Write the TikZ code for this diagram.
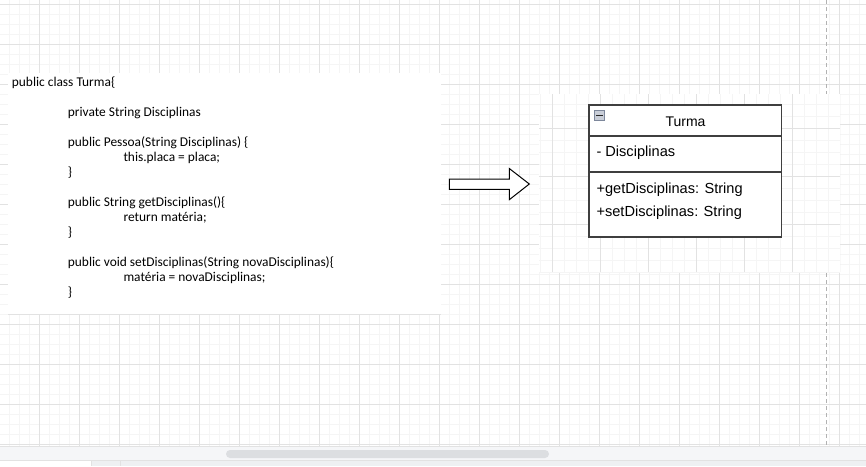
\documentclass[tikz,border=0pt]{standalone}
\usepackage{fontspec}
\setmainfont{Carlito}
\newfontfamily\arialf{Liberation Sans}
\definecolor{gmajor}{HTML}{E2E2E2}
\definecolor{gminor}{HTML}{F5F5F5}
\definecolor{umlline}{HTML}{3F3F3F}
\definecolor{band}{HTML}{F5F6F8}
\definecolor{thumb}{HTML}{DCDEE1}
\definecolor{tabgray}{HTML}{EEF0F2}
\definecolor{iconfill}{HTML}{C9CED8}
\definecolor{iconline}{HTML}{7D879B}
\tikzset{
  code/.style={anchor=base west, inner sep=0pt, font=\fontsize{13.4}{15}\selectfont, text=black},
  umltext/.style={anchor=base west, inner sep=0pt, font=\arialf\fontsize{14.6}{16}\selectfont, text=black},
  minorline/.style={draw=gminor, line width=0.8pt},
  majorline/.style={draw=gmajor, line width=0.9pt},
  umlbox/.style={draw=umlline, line width=1.6pt, fill=white},
}
\begin{document}
\begin{tikzpicture}[x=1pt,y=-1pt]
\useasboundingbox (0,0) rectangle (866,466);
\fill[white] (0,0) rectangle (866,466);
% main grid
\begin{scope}
\clip (0,0) rectangle (866,446);
\foreach \i in {0,...,86} {\draw[minorline] ({9.3+10*\i},0) -- ({9.3+10*\i},446);}
\foreach \j in {0,...,44} {\draw[minorline] (0,{4.3+10*\j}) -- (866,{4.3+10*\j});}
\foreach \i in {0,...,21} {\draw[majorline] ({39.3+40*\i},0) -- ({39.3+40*\i},446);}
\foreach \j in {0,...,11} {\draw[majorline] (0,{4.3+40*\j}) -- (866,{4.3+40*\j});}
\draw[draw=gray!60, line width=0.9pt, dash pattern=on 4pt off 3pt] (826.5,0) -- (826.5,446);
\end{scope}
% code area
\fill[white] (8,73) rectangle (440.5,314);
\draw[draw=gmajor, line width=0.9pt] (8,314.3) -- (440.5,314.3);
% second region with its own grid
\fill[white] (539,94) rectangle (840,272);
\begin{scope}
\clip (539,94) rectangle (840,272);
\foreach \i in {0,...,25} {\draw[minorline] ({540.3+12*\i},94) -- ({540.3+12*\i},272);}
\foreach \j in {0,...,15} {\draw[minorline] (539,{104.3+12*\j}) -- (840,{104.3+12*\j});}
\foreach \i in {0,...,6} {\draw[majorline] ({552.3+48*\i},94) -- ({552.3+48*\i},272);}
\foreach \j in {0,...,2} {\draw[majorline] (539,{128.3+48*\j}) -- (840,{128.3+48*\j});}
\end{scope}
% code text
\node[code] (l1) at (11.7,86) {public class Turma\{};
\node[code] (l2) at (67.7,116) {private String Disciplinas};
\node[code] (l3) at (67.7,146) {public Pessoa(String Disciplinas) \{};
\node[code] (l4) at (123.3,161) {this.placa = placa;};
\node[code] (l5) at (67.7,176) {\}};
\node[code] (l6) at (67.7,206) {public String getDisciplinas()\{};
\node[code] (l7) at (123.3,221) {return matéria;};
\node[code] (l8) at (67.7,236) {\}};
\node[code] (l9) at (67.7,266) {public void setDisciplinas(String novaDisciplinas)\{};
\node[code] (l10) at (123.3,281) {matéria = novaDisciplinas;};
\node[code] (l11) at (67.7,296) {\}};
% block arrow
\draw[black, line width=1pt, fill=white, line join=miter]
  (449.3,179) -- (509.3,179) -- (509.3,168.5) -- (529.3,184) -- (509.3,199.7)
  -- (509.3,189.3) -- (449.3,189.3) -- cycle;
% UML class
\draw[umlbox] (588.7,104.7) rectangle (781.3,236.7);
\draw[umlline, line width=1.6pt] (588.7,136) -- (781.3,136);
\draw[umlline, line width=1.6pt] (588.7,171.7) -- (781.3,171.7);
\node[anchor=base, inner sep=0pt, font=\arialf\fontsize{14}{16}\selectfont] (title) at (685.5,126.7) {Turma};
\node[umltext] (attr) at (596.3,156.7) {- Disciplinas};
\node[umltext] (m1) at (596.3,193.3) {+getDisciplinas: String};
\node[umltext] (m2) at (596.3,216.7) {+setDisciplinas: String};
% collapse icon
\draw[draw=iconline, fill=iconfill, line width=0.8pt] (594.5,110.8) rectangle (604.8,120.6);
\draw[black!85, line width=1.4pt] (596.3,115.6) -- (603,115.6);
% bottom scrollbar band
\fill[band] (0,446) rectangle (866,460);
\draw[gmajor, line width=0.8pt] (0,446) -- (866,446);
\fill[thumb, rounded corners=4pt] (226,450) rectangle (549,458);
\draw[gmajor, line width=0.9pt] (0,460.3) -- (866,460.3);
\fill[tabgray] (91.7,460.8) rectangle (866,466);
\draw[gmajor, line width=0.8pt] (91.7,460.8) -- (91.7,466);
\draw[gmajor, line width=0.8pt] (120.3,460.8) -- (120.3,466);
\end{tikzpicture}
\end{document}
